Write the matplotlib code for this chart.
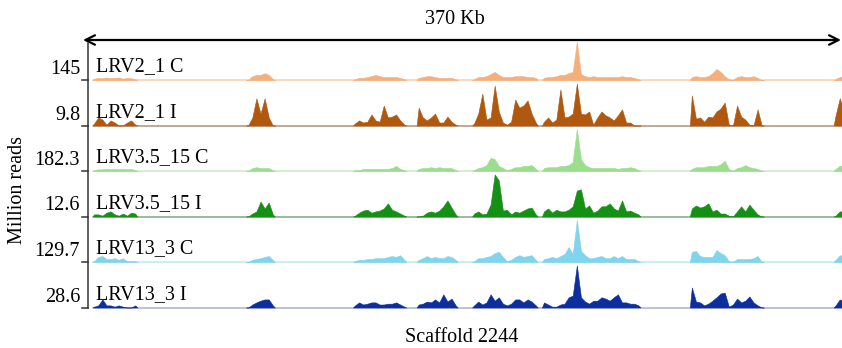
import numpy as np
import matplotlib
matplotlib.use("Agg")
import matplotlib.pyplot as plt

plt.rcParams['font.family'] = ['Liberation Serif', 'DejaVu Serif']

# ---------------- data ----------------
SCAFFOLD_LABEL = "Scaffold 2244"
SPAN_LABEL = "370 Kb"
BIN_KB = 2
# covered segments of the scaffold (start kb, end kb); gaps have no reads
segments_kb = [(3, 23), (78, 90), (130, 154), (161, 179), (188, 218),
               (222, 268), (294, 328), (364, 368)]

track_names = ["LRV2_1 C", "LRV2_1 I", "LRV3.5_15 C", "LRV3.5_15 I",
               "LRV13_3 C", "LRV13_3 I"]
track_max = [145, 9.8, 182.3, 12.6, 129.7, 28.6]   # million reads (track scale)
track_colors = ["#F4B07C", "#B0580E", "#9ADE8E", "#149014", "#80D4EB", "#0C2E9E"]
baseline_colors = ["#F8D2B4", "#B89A84", "#C8EEC2", "#8AAE8A", "#C2EAF5", "#B4B8C8"]

# coverage per bin, % of the track maximum, one list per segment
lrv2_1_c = [[3, 5, 4, 6, 4, 5, 6, 3, 5, 4, 2],
            [0, 9, 12, 12, 16, 12, 2],
            [2, 5, 5, 7, 9, 12, 9, 7, 7, 7, 7, 5, 2],
            [5, 7, 9, 9, 7, 5, 5, 5, 5, 2],
            [2, 7, 7, 9, 14, 19, 12, 7, 7, 7, 9, 9, 9, 7, 7, 5],
            [5, 7, 7, 9, 12, 12, 16, 19, 90, 14, 9, 7, 9, 7, 7, 7, 7, 7, 7, 9, 7, 7, 5, 2],
            [7, 9, 7, 7, 9, 16, 26, 19, 9, 2, 0, 7, 9, 7, 7, 9, 5, 0],
            [2, 7, 9]]
lrv2_1_i = [[5, 19, 14, 2, 12, 7, 0, 0, 7, 12, 2],
            [0, 19, 64, 28, 64, 19, 0],
            [5, 12, 7, 9, 26, 12, 9, 47, 19, 21, 26, 12, 2],
            [42, 19, 12, 19, 28, 7, 7, 21, 9, 2],
            [5, 28, 75, 14, 19, 94, 33, 7, 2, 9, 61, 42, 47, 59, 28, 7],
            [9, 19, 7, 14, 85, 19, 21, 28, 99, 28, 26, 33, 2, 19, 33, 24, 19, 12, 24, 38, 7, 7, 0, 0],
            [71, 16, 19, 9, 21, 19, 33, 40, 54, 2, 0, 47, 21, 14, 2, 0, 38, 0],
            [24, 64, 35]]
lrv3_5_15_c = [[2, 4, 4, 5, 4, 5, 4, 5, 4, 5, 2],
               [0, 7, 9, 7, 7, 7, 2],
               [2, 2, 5, 5, 5, 5, 5, 5, 5, 7, 12, 5, 2],
               [5, 7, 7, 9, 7, 9, 7, 7, 7, 2],
               [2, 7, 9, 14, 31, 28, 12, 7, 2, 5, 9, 9, 12, 12, 14, 5],
               [7, 9, 9, 9, 12, 12, 14, 21, 99, 28, 14, 9, 7, 7, 7, 7, 7, 7, 5, 7, 7, 9, 7, 2],
               [5, 9, 9, 9, 12, 12, 12, 16, 24, 5, 0, 7, 9, 14, 9, 7, 5, 0],
               [5, 12, 14]]
lrv3_5_15_i = [[5, 5, 2, 9, 12, 5, 2, 7, 2, 9, 7],
               [0, 7, 12, 35, 19, 33, 5],
               [2, 9, 14, 16, 9, 12, 14, 19, 31, 16, 12, 7, 2],
               [0, 2, 9, 12, 9, 14, 24, 38, 21, 5],
               [7, 12, 5, 7, 28, 99, 85, 14, 16, 5, 12, 9, 14, 19, 21, 5],
               [12, 19, 9, 16, 12, 12, 16, 24, 61, 64, 19, 26, 9, 14, 24, 24, 31, 19, 14, 38, 12, 14, 9, 5],
               [19, 26, 21, 24, 31, 12, 16, 7, 7, 2, 0, 12, 24, 12, 28, 16, 5, 0],
               [2, 12, 12]]
lrv13_3_c = [[2, 12, 14, 7, 7, 9, 5, 9, 2, 2, 2],
             [0, 5, 7, 9, 12, 14, 5],
             [2, 5, 5, 7, 7, 9, 9, 9, 12, 14, 12, 16, 5],
             [5, 9, 14, 9, 12, 9, 9, 14, 12, 5],
             [2, 9, 9, 12, 14, 21, 24, 12, 2, 5, 12, 16, 12, 14, 16, 5],
             [7, 9, 12, 9, 14, 19, 35, 19, 99, 26, 16, 9, 9, 12, 14, 9, 9, 14, 9, 14, 7, 7, 7, 2],
             [24, 26, 14, 12, 12, 12, 28, 21, 16, 2, 0, 7, 7, 7, 7, 9, 14, 0],
             [5, 16, 14]]
lrv13_3_i = [[2, 5, 19, 5, 5, 2, 5, 2, 0, 0, 5],
             [0, 7, 12, 16, 19, 19, 5],
             [5, 12, 7, 9, 12, 12, 7, 7, 9, 9, 12, 7, 2],
             [7, 9, 14, 12, 19, 12, 31, 14, 21, 5],
             [5, 14, 7, 12, 31, 16, 24, 9, 5, 9, 19, 19, 12, 19, 14, 5],
             [12, 7, 2, 2, 7, 9, 24, 28, 99, 24, 14, 9, 16, 16, 24, 21, 16, 24, 31, 12, 12, 9, 9, 5],
             [47, 14, 12, 5, 9, 16, 24, 33, 35, 2, 7, 21, 12, 16, 26, 12, 5, 0],
             [5, 19, 14]]

tracks = [lrv2_1_c, lrv2_1_i, lrv3_5_15_c, lrv3_5_15_i, lrv13_3_c, lrv13_3_i]

# ---------------- layout ----------------
W, H = 842, 348
FS = 14.5
fig = plt.figure(figsize=(W / 100, H / 100), dpi=100)

overlay = fig.add_axes([0, 0, 1, 1])
overlay.set_xlim(0, W)
overlay.set_ylim(H, 0)
overlay.axis('off')

AX_LEFT, AX_RIGHT = 88, 842
TRACK_H = 42.5
baselines = [80 + 45.5 * i for i in range(6)]
XMAX_KB = 367.1

for i, (vals, name, m, col, bcol) in enumerate(zip(tracks, track_names, track_max,
                                                   track_colors, baseline_colors)):
    b = baselines[i]
    ax = fig.add_axes([AX_LEFT / W, (H - b) / H, (AX_RIGHT - AX_LEFT) / W, TRACK_H / H])
    ax.set_xlim(0, XMAX_KB)
    ax.set_ylim(0, m)
    ax.axis('off')
    ax.axhline(0, xmin=6 / (AX_RIGHT - AX_LEFT), xmax=1, color=bcol, lw=1.2, clip_on=False, zorder=1)
    for (s, e), seg in zip(segments_kb, vals):
        pos = np.arange(s, e + 1, BIN_KB)
        reads = np.array(seg, dtype=float) * m / 100.0
        x = np.concatenate([[pos[0] - 1], pos, [pos[-1] + 1]])
        y = np.concatenate([[0], reads, [0]])
        ax.fill_between(x, 0, y, color=col, lw=0.4, edgecolor=col, zorder=2)

    # scale label and tick
    overlay.plot([82, 88], [b, b], color='#333333', lw=1.1)
    overlay.text(80, b - 6, f"{m:g}", ha='right', va='baseline', fontsize=FS)
    overlay.text(96.5, b - 8.5, name, ha='left', va='baseline', fontsize=FS)

# left axis line
overlay.plot([88, 88], [43, baselines[-1]], color='#333333', lw=1.1)

# span arrow
overlay.annotate('', xy=(83, 40), xytext=(841, 40),
                 arrowprops=dict(arrowstyle='<->', lw=1.6, color='black',
                                 mutation_scale=17, shrinkA=0, shrinkB=0))
overlay.text(455, 19, SPAN_LABEL, ha='center', va='center', fontsize=FS)
overlay.text(462, 337, SCAFFOLD_LABEL, ha='center', va='center', fontsize=FS)
overlay.text(18, 190, "Million reads", rotation=90, ha='center', va='center', fontsize=FS)

fig.savefig('out.png', dpi=100)
